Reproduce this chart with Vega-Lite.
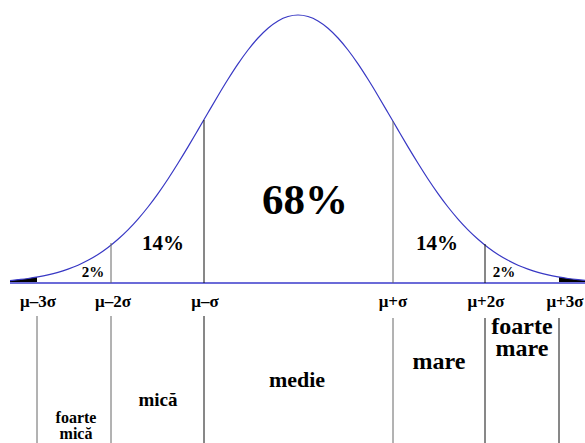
{
  "$schema": "https://vega.github.io/schema/vega-lite/v6.json",
  "width": 585,
  "height": 443,
  "autosize": {"type": "none"},
  "padding": 0,
  "background": "white",
  "config": {"view": {"stroke": null}},
  "datasets": {
    "curve": [
      {"x": 10, "h": 2.4}, {"x": 18, "h": 3.3}, {"x": 28, "h": 4.5}, {"x": 38, "h": 6.1}, {"x": 48, "h": 8.1},
      {"x": 58, "h": 10.65}, {"x": 68, "h": 13.9}, {"x": 78, "h": 17.8}, {"x": 88, "h": 22.7}, {"x": 98, "h": 28.5},
      {"x": 108, "h": 35.5}, {"x": 118, "h": 43.7}, {"x": 128, "h": 53.1}, {"x": 138, "h": 63.9}, {"x": 148, "h": 76.0},
      {"x": 158, "h": 89.4}, {"x": 168, "h": 104.0}, {"x": 178, "h": 119.7}, {"x": 188, "h": 136.1}, {"x": 198, "h": 153.1},
      {"x": 208, "h": 170.3}, {"x": 218, "h": 187.3}, {"x": 228, "h": 203.7}, {"x": 238, "h": 219.1}, {"x": 248, "h": 233.0},
      {"x": 258, "h": 245.0}, {"x": 268, "h": 254.8}, {"x": 278, "h": 262.1}, {"x": 288, "h": 266.5}, {"x": 298, "h": 268},
      {"x": 308, "h": 266.5}, {"x": 318, "h": 262.1}, {"x": 328, "h": 254.8}, {"x": 338, "h": 245.0}, {"x": 348, "h": 233.0},
      {"x": 358, "h": 219.1}, {"x": 368, "h": 203.7}, {"x": 378, "h": 187.3}, {"x": 388, "h": 170.3}, {"x": 398, "h": 153.1},
      {"x": 408, "h": 136.1}, {"x": 418, "h": 119.7}, {"x": 428, "h": 104.0}, {"x": 438, "h": 89.4}, {"x": 448, "h": 76.0},
      {"x": 458, "h": 63.9}, {"x": 468, "h": 53.1}, {"x": 478, "h": 43.7}, {"x": 488, "h": 35.5}, {"x": 498, "h": 28.5},
      {"x": 508, "h": 22.7}, {"x": 518, "h": 17.8}, {"x": 528, "h": 13.9}, {"x": 538, "h": 10.65}, {"x": 548, "h": 8.1},
      {"x": 558, "h": 6.1}, {"x": 568, "h": 4.5}, {"x": 578, "h": 3.3}, {"x": 585, "h": 2.6}
    ],
    "tails": [
      {"side": "L", "x": 10, "h": 2.4}, {"side": "L", "x": 18, "h": 3.3}, {"side": "L", "x": 28, "h": 4.5}, {"side": "L", "x": 37, "h": 5.9},
      {"side": "R", "x": 559, "h": 5.9}, {"side": "R", "x": 568, "h": 4.5}, {"side": "R", "x": 578, "h": 3.3}, {"side": "R", "x": 585, "h": 2.6}
    ],
    "vlines": [
      {"x": 111, "y1": 0, "y2": 40, "tone": "gray"},
      {"x": 204, "y1": 0, "y2": 163, "tone": "dark"},
      {"x": 393, "y1": 0, "y2": 162, "tone": "gray"},
      {"x": 485, "y1": 0, "y2": 39, "tone": "dark"},
      {"x": 37, "y1": -33, "y2": -160, "tone": "gray"},
      {"x": 111, "y1": -33, "y2": -160, "tone": "gray"},
      {"x": 204, "y1": -33, "y2": -160, "tone": "dark"},
      {"x": 393, "y1": -35, "y2": -160, "tone": "gray"},
      {"x": 485, "y1": -35, "y2": -160, "tone": "dark"},
      {"x": 559, "y1": -35, "y2": -160, "tone": "dark"}
    ],
    "labels": [
      {"x": 38, "y": -19, "text": "μ–3σ", "g": "tick"},
      {"x": 113, "y": -19, "text": "μ–2σ", "g": "tick"},
      {"x": 205, "y": -19, "text": "μ–σ", "g": "tick"},
      {"x": 393, "y": -19, "text": "μ+σ", "g": "tick"},
      {"x": 486, "y": -19, "text": "μ+2σ", "g": "tick"},
      {"x": 565, "y": -19, "text": "μ+3σ", "g": "tick"},
      {"x": 305, "y": 82, "text": "68%", "g": "big"},
      {"x": 163, "y": 39, "text": "14%", "g": "mid"},
      {"x": 437, "y": 39, "text": "14%", "g": "mid"},
      {"x": 93, "y": 11, "text": "2%", "g": "small"},
      {"x": 504, "y": 11, "text": "2%", "g": "small"},
      {"x": 76, "y": -135, "text": "foarte", "g": "lsmall"},
      {"x": 76, "y": -151, "text": "mică", "g": "lsmall"},
      {"x": 158, "y": -117, "text": "mică", "g": "lmid"},
      {"x": 297, "y": -97, "text": "medie", "g": "lmed"},
      {"x": 439, "y": -79, "text": "mare", "g": "lbig"},
      {"x": 522, "y": -44, "text": "foarte", "g": "lbig"},
      {"x": 522, "y": -66, "text": "mare", "g": "lbig"}
    ]
  },
  "encoding": {
    "x": {"field": "x", "type": "quantitative", "scale": {"domain": [0, 585], "nice": false, "zero": false}, "axis": null},
    "y": {"field": "h", "type": "quantitative", "scale": {"domain": [-160, 283], "nice": false, "zero": false}, "axis": null}
  },
  "layer": [
    {
      "data": {"name": "tails"},
      "mark": {"type": "area", "color": "black"},
      "encoding": {
        "y2": {"datum": 0},
        "detail": {"field": "side"}
      }
    },
    {
      "data": {"values": [{"x": 10, "b": 585, "h": 0}]},
      "mark": {"type": "rule", "color": "#6b6bd8", "strokeWidth": 2},
      "encoding": {
        "x2": {"field": "b"}
      }
    },
    {
      "data": {"name": "curve"},
      "mark": {"type": "line", "color": "#3838c4", "strokeWidth": 1.2, "interpolate": "monotone"},
      "encoding": {}
    },
    {
      "data": {"name": "vlines"},
      "mark": {"type": "rule", "strokeWidth": 1},
      "encoding": {
        "y": {"field": "y1", "type": "quantitative"},
        "y2": {"field": "y2"},
        "color": {"field": "tone", "type": "nominal", "scale": {"domain": ["gray", "dark"], "range": ["#666666", "#111111"]}, "legend": null}
      }
    },
    {
      "data": {"name": "labels"},
      "transform": [{"filter": "datum.g == 'tick'"}],
      "mark": {"type": "text", "fontSize": 17, "font": "Liberation Serif, DejaVu Serif, serif", "fontWeight": "bold", "baseline": "middle", "align": "center", "color": "black"},
      "encoding": {"y": {"field": "y", "type": "quantitative"}, "text": {"field": "text"}}
    },
    {
      "data": {"name": "labels"},
      "transform": [{"filter": "datum.g == 'big'"}],
      "mark": {"type": "text", "fontSize": 43, "font": "Liberation Serif, DejaVu Serif, serif", "fontWeight": "bold", "baseline": "middle", "align": "center", "color": "black"},
      "encoding": {"y": {"field": "y", "type": "quantitative"}, "text": {"field": "text"}}
    },
    {
      "data": {"name": "labels"},
      "transform": [{"filter": "datum.g == 'mid'"}],
      "mark": {"type": "text", "fontSize": 21, "font": "Liberation Serif, DejaVu Serif, serif", "fontWeight": "bold", "baseline": "middle", "align": "center", "color": "black"},
      "encoding": {"y": {"field": "y", "type": "quantitative"}, "text": {"field": "text"}}
    },
    {
      "data": {"name": "labels"},
      "transform": [{"filter": "datum.g == 'small'"}],
      "mark": {"type": "text", "fontSize": 15, "font": "Liberation Serif, DejaVu Serif, serif", "fontWeight": "bold", "baseline": "middle", "align": "center", "color": "black"},
      "encoding": {"y": {"field": "y", "type": "quantitative"}, "text": {"field": "text"}}
    },
    {
      "data": {"name": "labels"},
      "transform": [{"filter": "datum.g == 'lsmall'"}],
      "mark": {"type": "text", "fontSize": 16, "font": "Liberation Serif, DejaVu Serif, serif", "fontWeight": "bold", "baseline": "middle", "align": "center", "color": "black"},
      "encoding": {"y": {"field": "y", "type": "quantitative"}, "text": {"field": "text"}}
    },
    {
      "data": {"name": "labels"},
      "transform": [{"filter": "datum.g == 'lmid'"}],
      "mark": {"type": "text", "fontSize": 19, "font": "Liberation Serif, DejaVu Serif, serif", "fontWeight": "bold", "baseline": "middle", "align": "center", "color": "black"},
      "encoding": {"y": {"field": "y", "type": "quantitative"}, "text": {"field": "text"}}
    },
    {
      "data": {"name": "labels"},
      "transform": [{"filter": "datum.g == 'lmed'"}],
      "mark": {"type": "text", "fontSize": 22, "font": "Liberation Serif, DejaVu Serif, serif", "fontWeight": "bold", "baseline": "middle", "align": "center", "color": "black"},
      "encoding": {"y": {"field": "y", "type": "quantitative"}, "text": {"field": "text"}}
    },
    {
      "data": {"name": "labels"},
      "transform": [{"filter": "datum.g == 'lbig'"}],
      "mark": {"type": "text", "fontSize": 24, "font": "Liberation Serif, DejaVu Serif, serif", "fontWeight": "bold", "baseline": "middle", "align": "center", "color": "black"},
      "encoding": {"y": {"field": "y", "type": "quantitative"}, "text": {"field": "text"}}
    }
  ]
}
